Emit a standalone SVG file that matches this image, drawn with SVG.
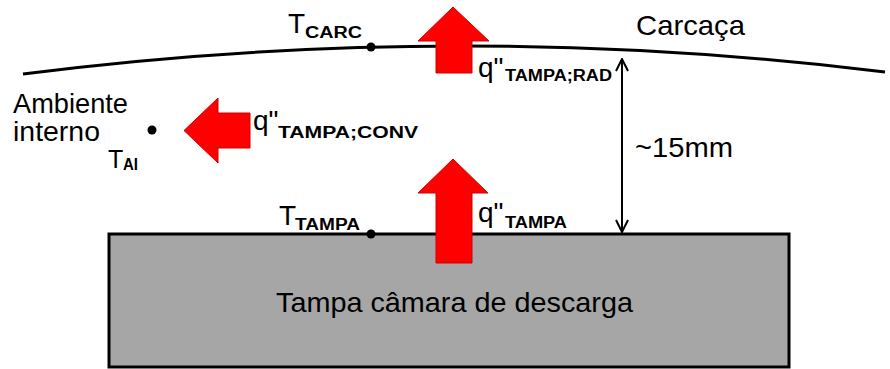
<svg xmlns="http://www.w3.org/2000/svg" width="890" height="369" viewBox="0 0 890 369">
<style>
text{font-family:"Liberation Sans",Arial,sans-serif;fill:#000}
.m{font-size:28px}
.s{font-size:16px;font-weight:bold}
.heat{fill:#ff0000;stroke:#d00000;stroke-width:1}
.dot{fill:#000}
</style>
<defs>
<marker id="oa" viewBox="0 0 14 14" refX="13" refY="7" markerWidth="14" markerHeight="14" markerUnits="userSpaceOnUse" orient="auto-start-reverse">
<polyline points="1,1 13,7 1,13" fill="none" stroke="#000" stroke-width="2"/>
</marker>
</defs>
<rect width="890" height="369" fill="#fff"/>
<g id="carcaca">
<path d="M23,74 Q454,19 885,72" fill="none" stroke="#000" stroke-width="3"/>
<text class="m" x="636" y="35" textLength="109" lengthAdjust="spacingAndGlyphs">Carcaça</text>
</g>
<g id="tampa">
<rect x="109" y="234" width="680" height="133" fill="#a6a6a6" stroke="#000" stroke-width="3"/>
<text class="m" x="276" y="312" textLength="357" lengthAdjust="spacingAndGlyphs">Tampa câmara de descarga</text>
</g>
<g id="ambiente">
<text class="m" x="13" y="113" textLength="115" lengthAdjust="spacingAndGlyphs">Ambiente</text>
<text class="m" x="13" y="141" textLength="87" lengthAdjust="spacingAndGlyphs">interno</text>
</g>
<g id="connectors">
<line x1="622" y1="59" x2="622" y2="232" stroke="#000" stroke-width="2" marker-start="url(#oa)" marker-end="url(#oa)"/>
<text class="m" x="635" y="157" textLength="98" lengthAdjust="spacingAndGlyphs">~15mm</text>
</g>
<g id="q-rad">
<polygon class="heat" points="453,7 489,41 472,41 472,73 436,73 436,41 418,41"/>
<text class="m" x="478" y="77">q"</text>
<text class="s" x="505" y="81" textLength="107" lengthAdjust="spacingAndGlyphs">TAMPA;RAD</text>
</g>
<g id="q-tampa">
<polygon class="heat" points="453,159 488,193 472,193 472,263 436,263 436,193 418,193"/>
<text class="m" x="478" y="222">q"</text>
<text class="s" x="505" y="228" textLength="62" lengthAdjust="spacingAndGlyphs">TAMPA</text>
</g>
<g id="q-conv">
<polygon class="heat" points="184,130.5 218,98 218,113 250,113 250,148 218,148 218,163"/>
<text class="m" x="253" y="130">q"</text>
<text class="s" x="278" y="138" textLength="140" lengthAdjust="spacingAndGlyphs">TAMPA;CONV</text>
</g>
<g id="t-carc">
<circle class="dot" cx="371" cy="47" r="4.5"/>
<text class="m" x="288" y="33">T</text>
<text class="s" x="305" y="38" textLength="57" lengthAdjust="spacingAndGlyphs">CARC</text>
</g>
<g id="t-ai">
<circle class="dot" cx="152" cy="130" r="4.5"/>
<text class="m" x="108" y="168" style="font-size:25px">T</text>
<text class="s" x="123" y="170" textLength="15" lengthAdjust="spacingAndGlyphs">AI</text>
</g>
<g id="t-tampa">
<circle class="dot" cx="371" cy="234" r="4.5"/>
<text class="m" x="279" y="225">T</text>
<text class="s" x="295" y="230" textLength="65" lengthAdjust="spacingAndGlyphs">TAMPA</text>
</g>
</svg>
